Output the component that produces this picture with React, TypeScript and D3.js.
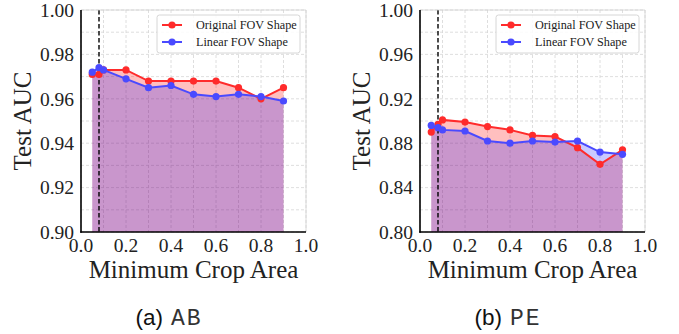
import React, { useRef, useEffect } from "react";
import * as d3 from "d3";

// minimum crop area values (shared x for both datasets)
const cropAreas = [0.05, 0.08, 0.1, 0.2, 0.3, 0.4, 0.5, 0.6, 0.7, 0.8, 0.9];

const abOriginal = [0.971, 0.971, 0.973, 0.973, 0.968, 0.968, 0.968, 0.968, 0.965, 0.960, 0.965];
const abLinear = [0.972, 0.974, 0.973, 0.969, 0.965, 0.966, 0.962, 0.961, 0.962, 0.961, 0.959];

const peOriginal = [0.890, 0.897, 0.901, 0.899, 0.895, 0.892, 0.887, 0.886, 0.876, 0.861, 0.874];
const peLinear = [0.896, 0.894, 0.892, 0.891, 0.882, 0.880, 0.882, 0.881, 0.882, 0.872, 0.870];

const abTicks = [0.90, 0.92, 0.94, 0.96, 0.98, 1.00];
const peTicks = [0.80, 0.84, 0.88, 0.92, 0.96, 1.00];
const xTicks = [0.0, 0.2, 0.4, 0.6, 0.8, 1.0];

const seriesNames = ["Original FOV Shape", "Linear FOV Shape"];
const cutoff = 0.08;

const RED = "#ff2b2b";
const BLUE = "#4a4aff";

type PanelProps = {
    x0: number;
    original: number[];
    linear: number[];
    yTicks: number[];
    yGridStep: number;
    tag: string;
    code: string;
    clipId: string;
};

const Panel = ({ x0, original, linear, yTicks, yGridStep, tag, code, clipId }: PanelProps) => {
    const gRef = useRef<SVGGElement | null>(null);

    useEffect(() => {
        if (!gRef.current) return;
        const left = x0 + 81;
        const right = x0 + 306;
        const top = 10;
        const bottom = 232;

        const x = d3.scaleLinear().domain([0, 1]).range([left, right]);
        const y = d3.scaleLinear().domain([yTicks[0], yTicks[yTicks.length - 1]]).range([bottom, top]);

        const g = d3.select(gRef.current);
        g.selectAll("*").remove();

        g.append("clipPath").attr("id", clipId)
            .append("rect").attr("x", left).attr("y", top).attr("width", right - left).attr("height", bottom - top);

        // grid
        const grid = g.append("g").attr("stroke", "#d6d6d6").attr("stroke-width", 0.8).attr("stroke-dasharray", "3,2");
        d3.range(0, 1.0001, 0.1).forEach(v => {
            grid.append("line").attr("x1", x(v)).attr("x2", x(v)).attr("y1", top).attr("y2", bottom);
        });
        const [y0, y1] = y.domain();
        d3.range(y0, y1 + 1e-6, yGridStep).forEach(v => {
            grid.append("line").attr("x1", left).attr("x2", right).attr("y1", y(v)).attr("y2", y(v));
        });

        const plot = g.append("g").attr("clip-path", `url(#${clipId})`);

        const area = (vals: number[]) => d3.area<number>()
            .x((_, i) => x(cropAreas[i]))
            .y0(bottom)
            .y1(d => y(d))(vals);
        plot.append("path").attr("d", area(original)).attr("fill", "#ff0000").attr("fill-opacity", 0.25);
        plot.append("path").attr("d", area(linear)).attr("fill", "#0000ff").attr("fill-opacity", 0.21);

        plot.append("line")
            .attr("x1", x(cutoff)).attr("x2", x(cutoff)).attr("y1", top).attr("y2", bottom)
            .attr("stroke", "#000").attr("stroke-width", 1.4).attr("stroke-dasharray", "4.5,2.5");

        const line = d3.line<number>().x((_, i) => x(cropAreas[i])).y(d => y(d));
        [[original, RED], [linear, BLUE]].forEach(([vals, c]: any) => {
            plot.append("path").attr("d", line(vals)).attr("fill", "none")
                .attr("stroke", c).attr("stroke-width", 2);
            plot.selectAll(null).data(vals).join("circle")
                .attr("cx", (_, i) => x(cropAreas[i]))
                .attr("cy", (d: any) => y(d))
                .attr("r", 3.6)
                .attr("fill", c);
        });

        // spines
        g.append("line").attr("x1", right).attr("x2", right).attr("y1", top).attr("y2", bottom).attr("stroke", "#d0d0d0").attr("stroke-width", 0.8);
        g.append("line").attr("x1", left).attr("x2", right).attr("y1", top).attr("y2", top).attr("stroke", "#d0d0d0").attr("stroke-width", 0.8);
        g.append("line").attr("x1", left).attr("x2", left).attr("y1", top).attr("y2", bottom + 0.75).attr("stroke", "#000").attr("stroke-width", 1.6);
        g.append("line").attr("x1", left - 0.75).attr("x2", right).attr("y1", bottom).attr("y2", bottom).attr("stroke", "#000").attr("stroke-width", 1.6);

        const serif = "'Liberation Serif', 'Times New Roman', serif";

        g.append("g").selectAll("text").data(yTicks).join("text")
            .attr("x", left - 7).attr("y", d => y(d)).attr("dy", "0.35em")
            .attr("text-anchor", "end").attr("font-family", serif).attr("font-size", 19.5).attr("fill", "#222")
            .text(d => d.toFixed(2));

        g.append("g").selectAll("text").data(xTicks).join("text")
            .attr("x", d => x(d)).attr("y", 252)
            .attr("text-anchor", "middle").attr("font-family", serif).attr("font-size", 19.5).attr("fill", "#222")
            .text(d => d.toFixed(1));

        g.append("text")
            .attr("x", (left + right) / 2).attr("y", 278)
            .attr("text-anchor", "middle").attr("font-family", serif).attr("font-size", 25).attr("fill", "#222")
            .text("Minimum Crop Area");

        g.append("text")
            .attr("transform", `translate(${x0 + 31},${(top + bottom) / 2}) rotate(-90)`)
            .attr("text-anchor", "middle").attr("font-family", serif).attr("font-size", 25).attr("fill", "#222")
            .text("Test AUC");

        // legend
        const lg = g.append("g").attr("transform", `translate(${x0 + 157},15)`);
        lg.append("rect").attr("width", 143).attr("height", 38).attr("rx", 2.5)
            .attr("fill", "#fff").attr("fill-opacity", 0.85).attr("stroke", "#cccccc").attr("stroke-width", 0.8);
        [RED, BLUE].forEach((c, i) => {
            const ry = 10 + i * 17;
            lg.append("line").attr("x1", 5).attr("x2", 25).attr("y1", ry).attr("y2", ry).attr("stroke", c).attr("stroke-width", 2);
            lg.append("circle").attr("cx", 15).attr("cy", ry).attr("r", 3.6).attr("fill", c);
            lg.append("text").attr("x", 39).attr("y", ry).attr("dy", "0.35em")
                .attr("font-family", serif).attr("font-size", 12.2).attr("fill", "#222")
                .text(seriesNames[i]);
        });

        // caption
        const cap = g.append("text")
            .attr("x", x0 + 169).attr("y", 325).attr("text-anchor", "middle").attr("fill", "#111");
        cap.append("tspan").attr("font-family", "'Liberation Sans', Arial, sans-serif").attr("font-size", 22.5).text(`(${tag})`);
        cap.append("tspan").attr("font-family", "'Liberation Mono', 'Courier New', monospace")
            .attr("font-size", 23).attr("font-weight", 300).attr("fill", "#333").attr("dx", 8).attr("letter-spacing", 2).text(code);
    }, [x0, original, linear, yTicks, yGridStep, tag, code, clipId]);

    return <g ref={gRef} />;
};

export default function App() {
    return (
        <svg width={679} height={334} style={{ position: "absolute", left: 0, top: 0, background: "#fff" }}>
            <Panel x0={0} original={abOriginal} linear={abLinear} yTicks={abTicks} yGridStep={0.01} tag="a" code="AB" clipId="clipA" />
            <Panel x0={339} original={peOriginal} linear={peLinear} yTicks={peTicks} yGridStep={0.02} tag="b" code="PE" clipId="clipB" />
        </svg>
    );
}
